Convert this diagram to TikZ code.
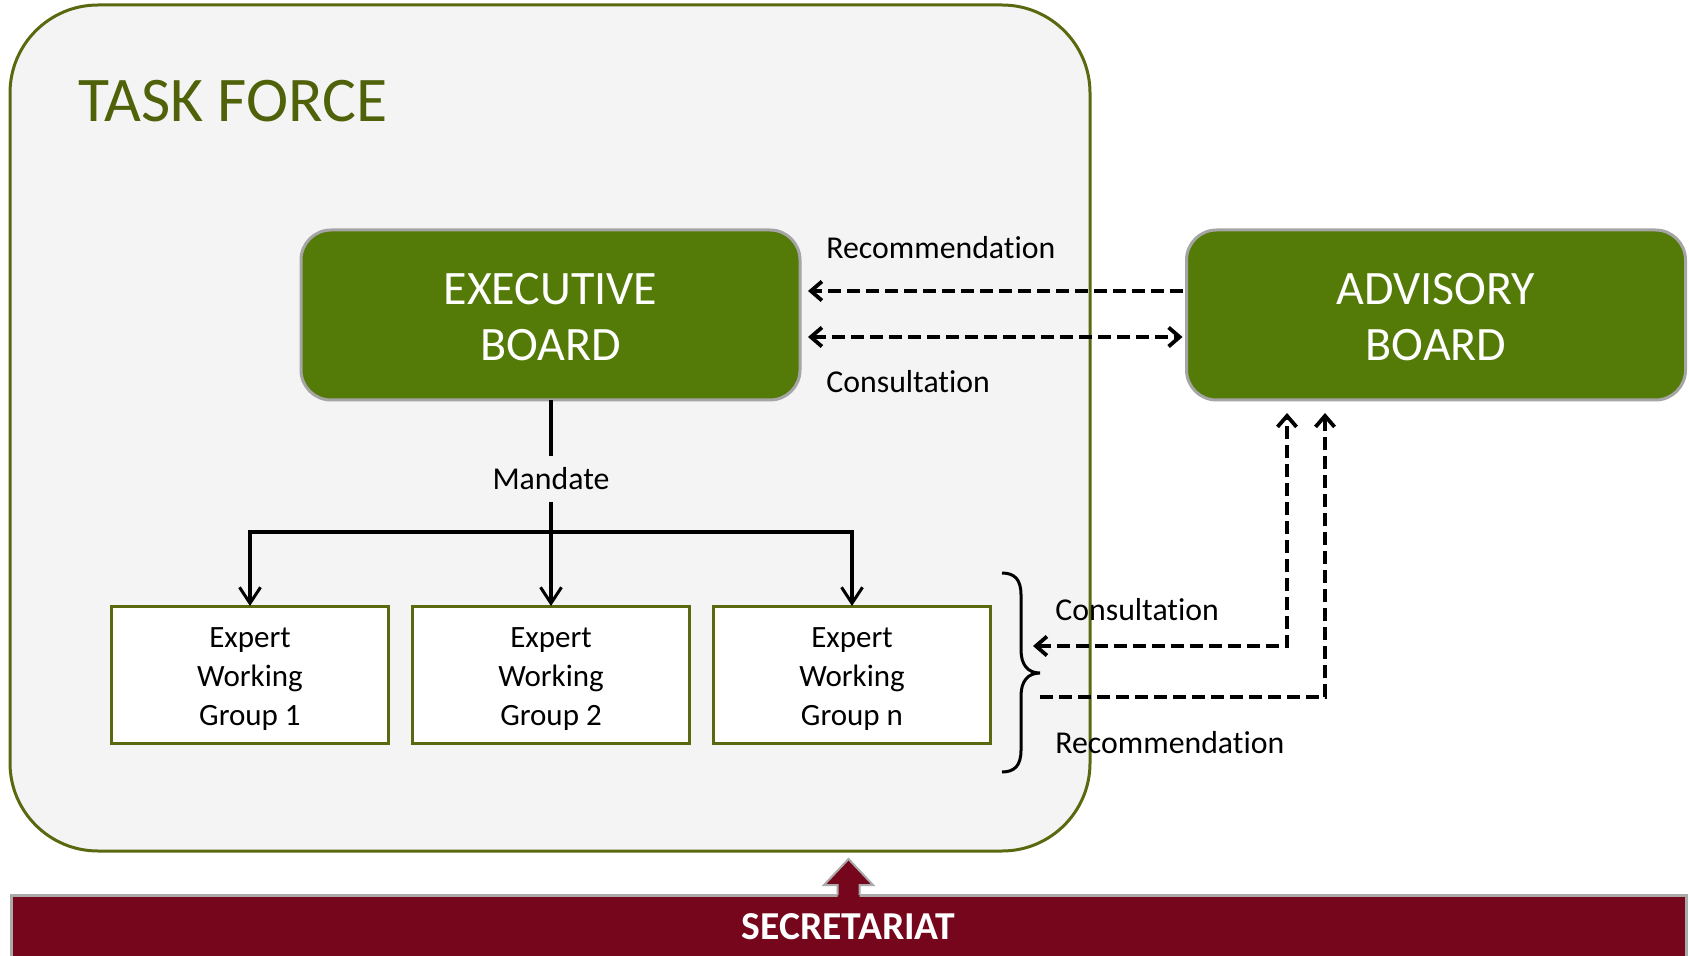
\documentclass[tikz,border=0pt]{standalone}
\usepackage{fontspec}
\setmainfont{Carlito}[Ligatures={NoCommon}]
\usetikzlibrary{arrows.meta,calc}
\definecolor{tfborder}{RGB}{90,105,15}
\definecolor{tffill}{RGB}{244,244,244}
\definecolor{tftext}{RGB}{79,98,9}
\definecolor{boardgreen}{RGB}{84,122,8}
\definecolor{boardborder}{RGB}{165,165,165}
\definecolor{secred}{RGB}{117,6,28}
\definecolor{secborder}{RGB}{170,170,170}
\begin{document}
\begin{tikzpicture}[x=0.5pt,y=-0.5pt,
  taskforce/.style={draw=tfborder, fill=tffill, line width=1.5pt, rounded corners=44pt,
    minimum width=540pt, minimum height=423pt, inner sep=0pt, outer sep=0pt},
  board/.style={draw=boardborder, line width=1.5pt, fill=boardgreen, rounded corners=15pt,
    minimum width=249.5pt, minimum height=85pt, inner sep=0pt, outer sep=0pt, text=white,
    font=\fontsize{24}{28}\selectfont, align=center},
  ewg/.style={draw=tfborder, fill=white, line width=1.5pt, minimum width=138.5pt,
    minimum height=68.5pt, inner sep=0pt, outer sep=0pt,
    font=\fontsize{15.5}{19.3}\selectfont, align=center},
  lbl/.style={font=\fontsize{15.9}{18}\selectfont, inner sep=0pt, anchor=west},
  mline/.style={line width=1.7pt},
  mtip/.style={-{Straight Barb[length=8pt,width=10.5pt,line width=1.5pt]}},
  dasharrow/.style={line width=1.8pt, dash pattern=on 6.5pt off 3pt},
  >={Straight Barb[length=5.5pt,width=9.5pt,line width=1.9pt]},
  sec/.style={draw=secborder, fill=secred, line width=1.5pt, minimum width=837.5pt,
    minimum height=32pt, inner sep=0pt, outer sep=0pt, text=white,
    font=\fontsize{19.8}{22}\selectfont\bfseries}
]
\useasboundingbox (0,0) rectangle (1689,956);

% Task force container
\node[taskforce] (tf) at (550,428) {};
\node[anchor=base west, inner sep=0pt, text=tftext, font=\fontsize{31.8}{36}\selectfont] (tftitle) at (78,122) {TASK FORCE};

% Boards
\node[board] (exec) at (550.5,315) {\rule{0pt}{18pt}EXECUTIVE\\BOARD};
\node[board] (adv) at (1436,315) {\rule{0pt}{18pt}ADVISORY\\BOARD};

% Expert working groups
\node[ewg] (ewg1) at (250,674.5) {\rule{0pt}{14.5pt}Expert\\Working\\Group 1};
\node[ewg] (ewg2) at (551,674.5) {\rule{0pt}{14.5pt}Expert\\Working\\Group 2};
\node[ewg] (ewg3) at (852,674.5) {\rule{0pt}{14.5pt}Expert\\Working\\Group n};

% Mandate
\node[font=\fontsize{15.9}{18}\selectfont, inner sep=0pt, minimum height=23pt] (mandate) at (551,479) {Mandate};
\draw[mline] (exec.south -| mandate.north) -- (mandate.north);
\draw[mline,mtip] (mandate.south) -- (ewg2.north);
\coordinate (split) at (551,532);
\draw[mline,mtip] (split) -| (ewg1.north);
\draw[mline,mtip] (split) -| (ewg3.north);

% Exec <-> Advisory
\draw[dasharrow,->] ([xshift=-2pt,yshift=12pt]adv.west) -- ([xshift=4pt,yshift=12pt]exec.east);
\draw[dasharrow,<->] ([xshift=4pt,yshift=-11pt]exec.east) -- ([xshift=-2pt,yshift=-11pt]adv.west);
\node[lbl] (rec1) at (826,248) {Recommendation};
\node[lbl] (con1) at (826,382) {Consultation};

% Brace
\draw[line width=1.5pt] (1002,573) .. controls (1015,573) and (1021,580) .. (1021,595)
  -- (1021,650) .. controls (1021,665) and (1028,673) .. (1040,673)
  .. controls (1028,673) and (1021,681) .. (1021,696)
  -- (1021,750) .. controls (1021,765) and (1015,772) .. (1002,772);

% Groups <-> Advisory
\coordinate (ct) at (1033,646);
\coordinate (rt) at (1040,697);
\draw[dasharrow,<->] (ct) -| ([xshift=-74.5pt,yshift=-6.5pt]adv.south);
\draw[dasharrow,->] (rt) -| ([xshift=-55.5pt,yshift=-6.5pt]adv.south);
\node[lbl] (con2) at (1055,610) {Consultation};
\node[lbl] (rec2) at (1055,743) {Recommendation};

% Secretariat
\node[sec] (sec) at (848.5,927) {SECRETARIAT};
\begin{scope}[shift={(sec.north)}]
  \fill[secred] (-11,2) -- (-11,-10) -- (-24.5,-10) -- (0,-36) -- (24.5,-10) -- (11,-10) -- (11,2) -- cycle;
  \draw[secborder, line width=1pt, line join=miter] (-11,0) -- (-11,-10) -- (-24.5,-10) -- (0,-36) -- (24.5,-10) -- (11,-10) -- (11,0);
\end{scope}
\end{tikzpicture}
\end{document}
